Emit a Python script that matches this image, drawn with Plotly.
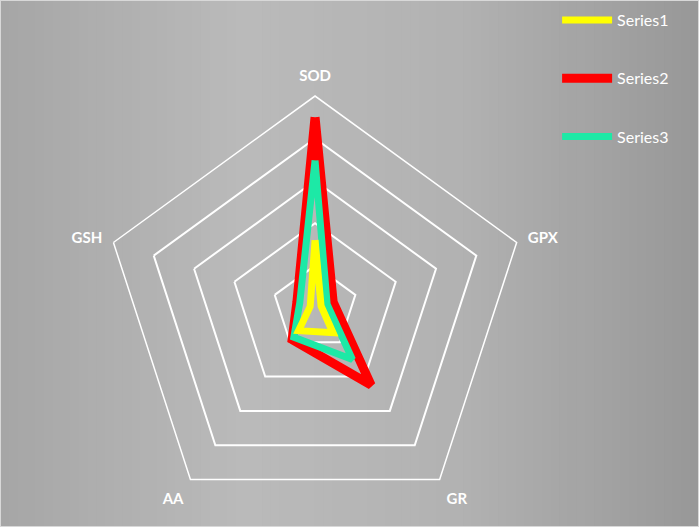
import plotly.graph_objects as go

# ---- data ----
categories = ["SOD", "GPX", "GR", "AA", "GSH"]
series1 = [1.6, 0.15, 0.72, 0.66, 0.12]
series2 = [4.5, 0.45, 2.25, 0.92, 0.45]
series3 = [3.48, 0.3, 1.5, 0.85, 0.38]
series_names = ["Series1", "Series2", "Series3"]
series_colors = ["#ffff00", "#ff0000", "#1de9a6"]

def closed(vals):
    return list(vals) + [vals[0]]

theta = closed(categories)

fig = go.Figure()

# draw order: red (bottom), green, yellow (top); legend order via legendrank
draw = [
    (series2, 1, 9),
    (series3, 2, 7),
    (series1, 0, 7),
]
for vals, idx, w in draw:
    fig.add_trace(go.Scatterpolar(
        r=closed(vals), theta=theta, mode="lines",
        name=series_names[idx],
        line=dict(color=series_colors[idx], width=w),
        legendrank=idx + 1,
        legendgroup=series_names[idx],
    ))

# background horizontal gradient (style only)
def lerp_gray(x):
    stops = [(0.0, 166), (0.35, 186), (0.65, 178), (1.0, 152)]
    for (x0, g0), (x1, g1) in zip(stops[:-1], stops[1:]):
        if x0 <= x <= x1:
            t = (x - x0) / (x1 - x0)
            return int(round(g0 + t * (g1 - g0)))
    return stops[-1][1]

shapes = []
n = 80
for i in range(n):
    g = lerp_gray((i + 0.5) / n)
    shapes.append(dict(type="rect", xref="paper", yref="paper",
                       x0=i / n, x1=(i + 1) / n + 0.002, y0=0, y1=1,
                       fillcolor=f"rgb({g},{g},{g})", line=dict(width=0),
                       layer="below"))
shapes.append(dict(type="rect", xref="paper", yref="paper", x0=0, x1=1, y0=0, y1=1,
                   line=dict(color="#d8d8d8", width=2), fillcolor="rgba(0,0,0,0)",
                   layer="above"))

fig.update_layout(
    width=699, height=527,
    margin=dict(l=0, r=0, t=0, b=0, autoexpand=False),
    paper_bgcolor="#b0b0b0",
    shapes=shapes,
    font=dict(family="Lato, Liberation Sans, sans-serif", color="white"),
    polar=dict(
        domain=dict(x=[0.1474, 0.7540], y=[0.0133, 0.8178]),
        bgcolor="rgba(0,0,0,0)",
        gridshape="linear",
        radialaxis=dict(range=[0, 5], tick0=0, dtick=1, showticklabels=False,
                        ticks="", showline=False, gridcolor="white", gridwidth=1.5),
        angularaxis=dict(direction="clockwise", rotation=90, showgrid=False,
                         showline=True, linecolor="white", linewidth=1.5,
                         ticks="outside", ticklen=8, tickcolor="rgba(0,0,0,0)",
                         tickfont=dict(family="Lato, Liberation Sans, sans-serif",
                                       size=15, color="white", weight="bold")),
    ),
    legend=dict(x=0.797, y=0.9943, xanchor="left", yanchor="top",
                bgcolor="rgba(0,0,0,0)", tracegroupgap=34.5, itemwidth=50,
                font=dict(family="Lato, Liberation Sans, sans-serif", size=16, color="white")),
)

fig.write_html("out.html", config={"displayModeBar": False},
               post_script="document.body.style.margin='0px';")
